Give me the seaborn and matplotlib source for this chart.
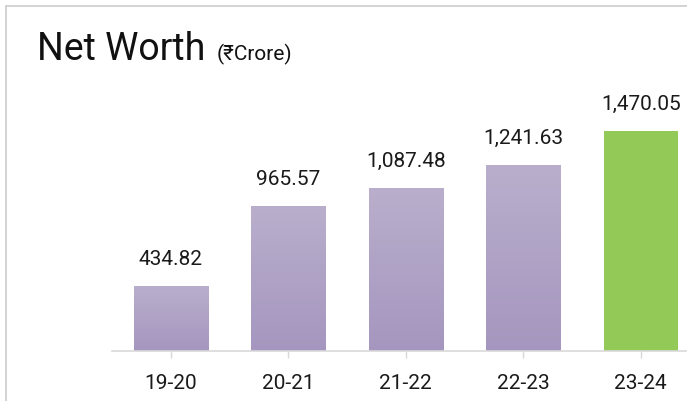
import numpy as np
import pandas as pd
import matplotlib
matplotlib.use('Agg')
import matplotlib.pyplot as plt
from matplotlib.colors import LinearSegmentedColormap
from matplotlib.patches import Rectangle
import seaborn as sns

# 数据
years = ['19-20', '20-21', '21-22', '22-23', '23-24']
net_worth = [434.82, 965.57, 1087.48, 1241.63, 1470.05]
value_labels = ['434.82', '965.57', '1,087.48', '1,241.63', '1,470.05']
bar_colors = ['#b3a7c9', '#b3a7c9', '#b3a7c9', '#b3a7c9', '#92c957']

sns.set_theme(style='white')
plt.rcParams['font.family'] = ['Roboto', 'DejaVu Sans']

df = pd.DataFrame({'year': years, 'value': net_worth})

fig = plt.figure(figsize=(6.87, 4.02), dpi=100)
W, H = 687, 402
# axes: left edge at px 112, axis line at px 352, top at px 60
ax = fig.add_axes([112 / W, 1 - 352 / H, 587.5 / W, 292 / H])

sns.barplot(data=df, x='year', y='value', hue='year', palette=bar_colors,
            legend=False, width=0.63, ax=ax)
ax.set_xlim(-0.5, 4.5)
ax.set_ylim(0, 292 / 0.1497)

# 渐变填充（紫色柱子）
purple = LinearSegmentedColormap.from_list('p', ['#a596bf', '#b9afcc'])
grad = np.linspace(0, 1, 256).reshape(-1, 1)
for patch, c in zip(ax.patches, bar_colors):
    x0, y0 = patch.get_x(), patch.get_y()
    w, h = patch.get_width(), patch.get_height()
    if c == '#92c957':
        patch.set_facecolor(c)
        patch.set_edgecolor('none')
        continue
    patch.set_facecolor('none')
    patch.set_edgecolor('none')
    im = ax.imshow(grad, cmap=purple, origin='lower', aspect='auto',
                   extent=[x0, x0 + w, y0, y0 + h], zorder=2)
    im.set_clip_path(patch)
ax.set_xlim(-0.5, 4.5)
ax.set_ylim(0, 292 / 0.1497)

# 数值标签
for i, (v, lab) in enumerate(zip(net_worth, value_labels)):
    ax.annotate(lab, (i, v), xytext=(0, 16), textcoords='offset points',
                ha='center', va='baseline', fontsize=15, color='#1a1a1a')

for s in ['top', 'right', 'left']:
    ax.spines[s].set_visible(False)
ax.spines['bottom'].set_color('#d9d9d9')
ax.spines['bottom'].set_linewidth(1.2)
ax.set_yticks([])
ax.set_xlabel('')
ax.set_ylabel('')
ax.tick_params(axis='x', bottom=True, direction='out', length=5, width=1,
               color='#d9d9d9', pad=11, labelsize=15, labelcolor='#1a1a1a')

# 标题
fig.text(37 / W, 1 - 60 / H, 'Net Worth', fontsize=27, color='#111111',
         va='baseline', ha='left')
fig.text(217 / W, 1 - 60 / H, '(₹Crore)', fontsize=15, color='#111111',
         va='baseline', ha='left', family=['Roboto', 'DejaVu Sans'])

# 卡片边框
fig.add_artist(Rectangle((5.5 / W, -0.1), 1.2, 1 - 6.5 / H + 0.1,
                         transform=fig.transFigure, fill=False,
                         edgecolor='#cccccc', linewidth=1.2))

fig.savefig('out.png', dpi=100)
